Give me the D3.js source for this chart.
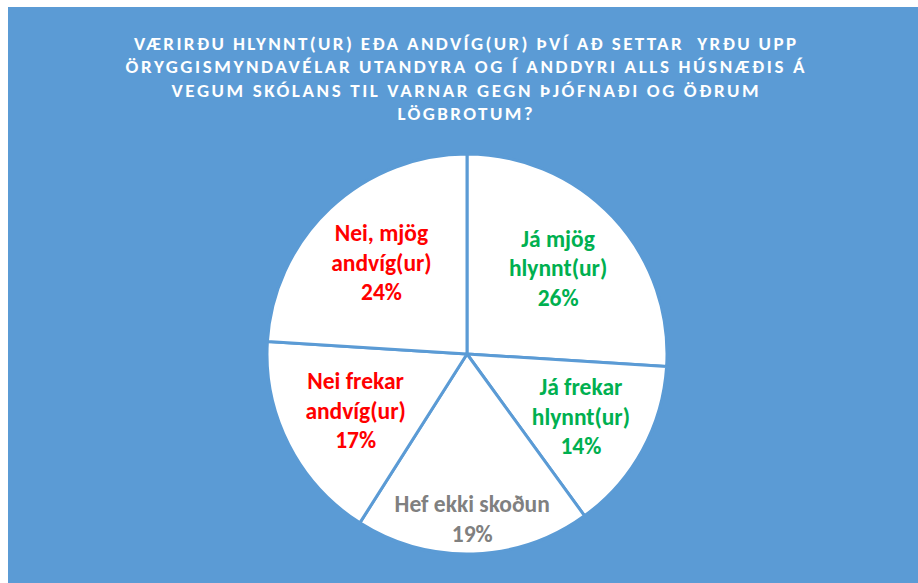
<!DOCTYPE html>
<html>
<head>
<meta charset="utf-8">
<script src="https://cdn.jsdelivr.net/npm/d3@7"></script>
<style>
  html, body { margin: 0; padding: 0; background: #ffffff; }
  svg { display: block; }
</style>
</head>
<body>
<svg id="chart" width="918" height="583"></svg>
<script>
// ---- Data ----
const categories = ["Já mjög hlynnt(ur)", "Já frekar hlynnt(ur)", "Hef ekki skoðun", "Nei frekar andvíg(ur)", "Nei, mjög andvíg(ur)"];
const values = [26, 14, 19, 17, 24];
const labelLines = [["Já mjög", "hlynnt(ur)"], ["Já frekar", "hlynnt(ur)"], ["Hef ekki skoðun"], ["Nei frekar", "andvíg(ur)"], ["Nei, mjög", "andvíg(ur)"]];
const titleLines = [
  "VÆRIRÐU HLYNNT(UR) EÐA ANDVÍG(UR) ÞVÍ AÐ SETTAR  YRÐU UPP",
  "ÖRYGGISMYNDAVÉLAR UTANDYRA OG Í ANDDYRI ALLS HÚSNÆÐIS Á",
  "VEGUM SKÓLANS TIL VARNAR GEGN ÞJÓFNAÐI OG ÖÐRUM",
  "LÖGBROTUM?"
];

// ---- Style / layout ----
const labelColors = ["#00B050", "#00B050", "#808080", "#FF0000", "#FF0000"];
const labelRadius = [125, 130, 165, 125, 125];
const titleWidths = [662, 679, 587, 135];
const bg = "#5B9BD5";
const W = 918, H = 583;
const cx = 467, cy = 354, R = 200;
const fontFam = "Carlito, Lato, 'Open Sans', sans-serif";

const svg = d3.select("#chart");
svg.append("rect").attr("x", 8).attr("y", 7).attr("width", W - 8).attr("height", H - 7).attr("fill", bg);

// Title
const title = svg.append("g");
titleLines.forEach((t, i) => {
  title.append("text")
    .attr("x", 465).attr("y", 50 + i * 23.3)
    .attr("text-anchor", "middle")
    .attr("fill", "#ffffff")
    .attr("font-family", fontFam)
    .attr("font-weight", "bold")
    .attr("font-size", 19)
    .attr("textLength", titleWidths[i])
    .attr("lengthAdjust", "spacing")
    .style("white-space", "pre")
    .text(t);
});

// Pie
const data = categories.map((c, i) => ({ cat: c, value: values[i], i }));
const pie = d3.pie().sort(null).value(d => d.value).startAngle(0).endAngle(2 * Math.PI);
const arcs = pie(data);
const arc = d3.arc().innerRadius(0).outerRadius(R);

const g = svg.append("g").attr("transform", `translate(${cx},${cy})`);
g.selectAll("path.slice").data(arcs).join("path")
  .attr("class", "slice")
  .attr("d", arc)
  .attr("fill", "#ffffff")
  .attr("stroke", bg)
  .attr("stroke-width", 3)
  .attr("stroke-linejoin", "round");

// Labels
const lineH = 29.5;
arcs.forEach((a, i) => {
  const la = d3.arc().innerRadius(labelRadius[i]).outerRadius(labelRadius[i]);
  const [x, y] = la.centroid(a);
  const lines = labelLines[i].concat([values[i] + "%"]);
  const n = lines.length;
  const t = g.append("text")
    .attr("text-anchor", "middle")
    .attr("fill", labelColors[i])
    .attr("font-family", fontFam)
    .attr("font-weight", "bold")
    .attr("font-size", 23.5);
  lines.forEach((ln, k) => {
    t.append("tspan")
      .attr("x", x)
      .attr("y", y + 8 + (k - (n - 1) / 2) * lineH)
      .text(ln);
  });
});
</script>
</body>
</html>
